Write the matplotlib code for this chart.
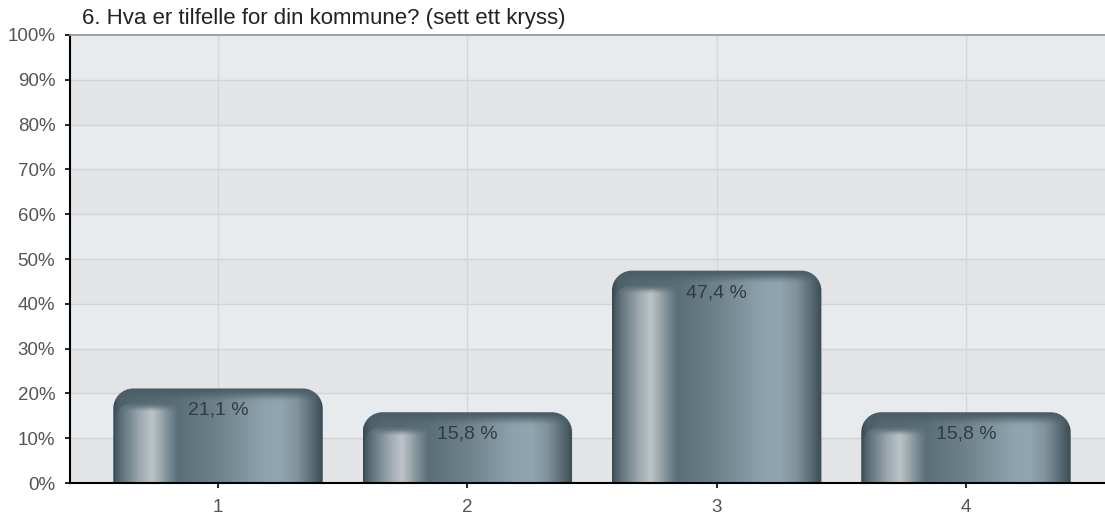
import numpy as np
import matplotlib
matplotlib.use('Agg')
import matplotlib.pyplot as plt
from matplotlib.path import Path
from matplotlib.patches import PathPatch
from matplotlib.colors import to_rgb

# ---------------- data ----------------
categories = ['1', '2', '3', '4']
values = [21.1, 15.8, 47.4, 15.8]
value_labels = ['21,1 %', '15,8 %', '47,4 %', '15,8 %']
yticks = list(range(0, 101, 10))
ytick_labels = [f'{v}%' for v in yticks]
title = '6. Hva er tilfelle for din kommune? (sett ett kryss)'

plt.rcParams['font.family'] = ['Liberation Sans', 'DejaVu Sans']

W, H = 1105, 518
fig = plt.figure(figsize=(W / 100, H / 100), dpi=100)
ax = fig.add_axes([70 / W, 35 / H, 1035 / W, 448 / H])

x = np.arange(1, len(categories) + 1)
ax.set_xlim(0.4063, 4.5576)
ax.set_ylim(0, 100)

# background bands
light, dark = '#e8ebee', '#e3e4e6'
for i in range(10):
    ax.axhspan(i * 10, (i + 1) * 10, color=light if i % 2 else dark, lw=0, zorder=0)
for yv in yticks[1:-1]:
    ax.axhline(yv, color='#d0d3d7', lw=1.0, zorder=0.5)
for xv in x:
    ax.axvline(xv, color='#d5d6d8', lw=1.0, zorder=0.5)

# pixel -> data conversion
p0 = ax.transData.transform((0, 0))
p1 = ax.transData.transform((1, 1))
sx = 1.0 / (p1[0] - p0[0])
sy = 1.0 / (p1[1] - p0[1])

bars = ax.bar(x, values, width=0.84, color='none', edgecolor='none', zorder=2)

K = 0.5523


def rounded_top(x0, x1, y0, y1, rl, rr):
    rlx, rly = rl * sx, rl * sy
    rrx, rry = rr * sx, rr * sy
    verts = [(x0, y0), (x0, y1 - rly),
             (x0, y1 - rly + K * rly), (x0 + rlx - K * rlx, y1), (x0 + rlx, y1),
             (x1 - rrx, y1),
             (x1 - rrx + K * rrx, y1), (x1, y1 - rry + K * rry), (x1, y1 - rry),
             (x1, y0), (x0, y0)]
    codes = [Path.MOVETO, Path.LINETO,
             Path.CURVE4, Path.CURVE4, Path.CURVE4,
             Path.LINETO,
             Path.CURVE4, Path.CURVE4, Path.CURVE4,
             Path.LINETO, Path.CLOSEPOLY]
    return Path(verts, codes)


def profile(stops, n):
    f = np.array([s[0] for s in stops])
    c = np.array([to_rgb(s[1]) for s in stops])
    t = np.linspace(0, 1, n)
    return np.stack([np.interp(t, f, c[:, k]) for k in range(3)], axis=1)


body_stops = [(0.00, '#3a4a53'), (0.03, '#4d606a'), (0.10, '#546872'),
              (0.31, '#5a6e78'), (0.34, '#5e727c'), (0.50, '#6e828c'),
              (0.72, '#8ea2ad'), (0.80, '#91a5b0'), (0.88, '#80939d'),
              (0.94, '#5f717a'), (1.00, '#3b4c55')]
tab_stops = [(0.00, '#475963'), (0.12, '#63757e'), (0.38, '#9ca8ae'),
             (0.58, '#bcc4c8'), (0.72, '#9ba8ae'), (0.87, '#74868f'),
             (1.00, '#5c6f79')]
top_dark = np.array(to_rgb('#4b5e67'))
tab_top = np.array(to_rgb('#5d6f78'))

for rect, lab in zip(bars, value_labels):
    x0, w, h = rect.get_x(), rect.get_width(), rect.get_height()
    wpx = max(int(round(w / sx)), 2)
    hpx = max(int(round(h / sy)), 2)
    # outer body
    outer = PathPatch(rounded_top(x0, x0 + w, 0, h, 20, 20), facecolor='none',
                      edgecolor='none', transform=ax.transData)
    ax.add_patch(outer)
    cols = profile(body_stops, wpx)[None, :, :]
    d = (hpx - 1 - np.arange(hpx))[:, None, None]
    t = np.clip(d / 14.0, 0, 1)
    t = t * t * (3 - 2 * t)
    img = top_dark * (1 - t) + cols * t
    im = ax.imshow(img, extent=(x0, x0 + w, 0, h), origin='lower', aspect='auto',
                   interpolation='bilinear', zorder=2)
    im.set_clip_path(outer)
    # inner highlight tab
    tx0 = x0 + 2 * sx
    tx1 = x0 + 0.314 * w
    ty1 = h - 15 * sy
    tpx_w = max(int(round((tx1 - tx0) / sx)), 2)
    tpx_h = max(int(round(ty1 / sy)), 2)
    tab = PathPatch(rounded_top(tx0, tx1, 0, ty1, 16, 3), facecolor='none',
                    edgecolor='none', transform=ax.transData)
    ax.add_patch(tab)
    tcols = profile(tab_stops, tpx_w)[None, :, :]
    dd = (tpx_h - 1 - np.arange(tpx_h))[:, None, None]
    tt = np.clip(dd / 9.0, 0, 1)
    tt = tt * tt * (3 - 2 * tt)
    timg = tab_top * (1 - tt) + tcols * tt
    im2 = ax.imshow(timg, extent=(tx0, tx1, 0, ty1), origin='lower', aspect='auto',
                    interpolation='bilinear', zorder=2.1)
    im2.set_clip_path(tab)
    # value label
    ax.text(x0 + w / 2, h - 22 * sy, lab, ha='center', va='center',
            fontsize=14, color='#323b40', zorder=4)

ax.set_xlim(0.4063, 4.5576)
ax.set_ylim(0, 100)

ax.set_xticks(x)
ax.set_xticklabels(categories)
ax.set_yticks(yticks)
ax.set_yticklabels(ytick_labels)
ax.tick_params(axis='both', direction='out', length=3.6, width=1.2, color='black',
               labelsize=13.5, labelcolor='#555555')
ax.tick_params(axis='x', pad=8)
ax.tick_params(axis='y', pad=7)

for s in ['right']:
    ax.spines[s].set_visible(False)
ax.spines['top'].set_color('#9a9a9a')
ax.spines['top'].set_linewidth(1.3)
ax.spines['left'].set_color('black')
ax.spines['left'].set_linewidth(1.5)
ax.spines['bottom'].set_color('black')
ax.spines['bottom'].set_linewidth(1.5)
for sp in ax.spines.values():
    sp.set_zorder(5)

fig.text(82 / W, 1 - 24 / H, title, fontsize=16, color='#222222',
         ha='left', va='baseline')

fig.savefig('out.png', dpi=100)
